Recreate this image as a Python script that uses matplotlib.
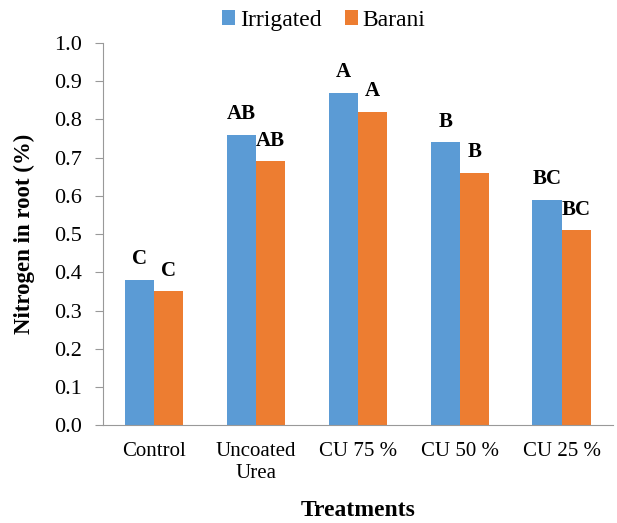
import numpy as np
import matplotlib
matplotlib.use('Agg')
import matplotlib.pyplot as plt

plt.rcParams['font.family'] = ['Liberation Serif', 'DejaVu Serif']

treatments = ['Control', 'Uncoated\nUrea', 'CU 75 %', 'CU 50 %', 'CU 25 %']
irrigated = [0.38, 0.76, 0.87, 0.74, 0.59]
barani = [0.35, 0.69, 0.82, 0.66, 0.51]
letters_irr = ['C', 'AB', 'A', 'B', 'BC']
letters_bar = ['C', 'AB', 'A', 'B', 'BC']

fig = plt.figure(figsize=(6.17, 5.23), dpi=100)
ax = fig.add_axes([0.167, 0.187, 0.826, 0.731])

x = np.arange(len(treatments))
w = 0.287
b1 = ax.bar(x - w / 2, irrigated, w, color='#5B9BD5', label='Irrigated')
b2 = ax.bar(x + w / 2, barani, w, color='#ED7D31', label='Barani')

# significance letters above each bar
for i in range(len(x)):
    ax.text(x[i] - w / 2, irrigated[i] + 0.028, letters_irr[i], ha='center', va='bottom',
            fontsize=15, fontweight='bold')
    ax.text(x[i] + w / 2, barani[i] + 0.028, letters_bar[i], ha='center', va='bottom',
            fontsize=15, fontweight='bold')

ax.set_xlim(-0.5, len(x) - 0.5)
ax.set_ylim(0, 1.0)
ax.set_yticks(np.arange(0, 1.01, 0.1))
ax.set_yticklabels(['%.1f' % v for v in np.arange(0, 1.01, 0.1)], fontsize=16)
ax.set_xticks(x)
ax.set_xticklabels(treatments, fontsize=15, linespacing=1.25)
ax.tick_params(axis='x', length=0, pad=12)
ax.tick_params(axis='y', length=6, color='#999999', pad=9)

for s in ['top', 'right']:
    ax.spines[s].set_visible(False)
ax.spines['left'].set_color('#999999')
ax.spines['bottom'].set_color('#999999')

ax.set_xlabel('Treatments', fontsize=17, fontweight='bold', labelpad=12)
ax.set_ylabel('Nitrogen in root (%)', fontsize=16.5, fontweight='bold', labelpad=14)

fig.legend(handles=[b1, b2], loc='upper center', bbox_to_anchor=(0.525, 1.022), ncol=2,
           frameon=False, fontsize=17, handlelength=0.55, handleheight=0.55,
           handletextpad=0.2, columnspacing=1.0)

fig.savefig('out.png', dpi=100)
